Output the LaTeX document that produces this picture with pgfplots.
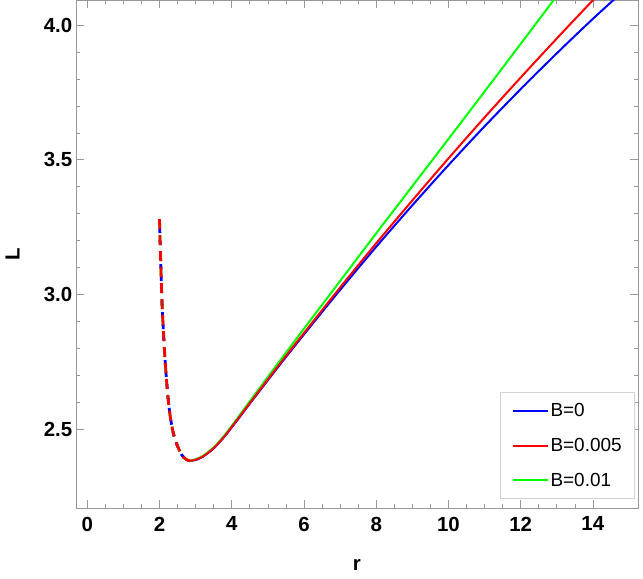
\documentclass[border=0pt]{standalone}
\usepackage{fontspec}
\setmainfont{Liberation Sans}
\usepackage{pgfplots}
\pgfplotsset{compat=1.18}
\begin{document}
\begin{tikzpicture}
\begin{axis}[
  name=ax,
  scale only axis, width=562bp, height=508bp,
  xmin=-0.32, xmax=15.25, ymin=2.207, ymax=4.093,
  xtick={0,2,...,14}, minor x tick num=3,
  ytick={2.5,3.0,3.5,4.0}, minor y tick num=4,
  y tick label style={/pgf/number format/fixed, /pgf/number format/fixed zerofill, /pgf/number format/precision=1},
  /pgf/number format/assume math mode=true,
  tick align=inside,
  major tick length=8bp, minor tick length=4bp,
  axis line style={gray!80},
  every tick/.style={gray!80, line width=0.6bp},
  tick label style={font=\fontsize{20.5}{24}\selectfont\bfseries, black},
  x tick label style={yshift=-5bp},
  xlabel={r}, ylabel={L},
  label style={font=\fontsize{20.5}{24}\selectfont\bfseries},
  xlabel style={at={(axis description cs:0.5,-0.1122)}, anchor=center},
  ylabel style={at={(axis description cs:-0.1121,0.5)}, anchor=center},
  legend style={at={(rel axis cs:0.9947,0.0177)}, anchor=south east,
    draw=gray!35, line width=0.8bp, font=\fontsize{19}{22}\selectfont,
    inner xsep=11bp, inner ysep=9bp, row sep=16bp},
  legend cell align=left,
  legend image code/.code={\draw[#1, solid] (0bp,0bp) -- (35bp,0bp);},
  clip=true,
]
% unstable branch (dashed)
\addplot[green, line width=2.8bp, dash pattern=on 10bp off 6bp, smooth, forget plot] coordinates {
(2.000,3.280)(2.005,3.252)(2.010,3.228)(2.020,3.180)(2.030,3.135)(2.045,3.070)(2.060,3.005)
(2.080,2.935)(2.110,2.860)(2.150,2.765)(2.200,2.672)(2.245,2.605)(2.300,2.545)(2.380,2.487)
(2.450,2.455)(2.530,2.428)(2.610,2.406)(2.700,2.392)(2.780,2.385)(2.850,2.383)};
\addplot[blue, line width=2.8bp, dash pattern=on 5bp off 7bp, dash phase=3bp, smooth, forget plot] coordinates {
(2.000,3.280)(2.005,3.252)(2.010,3.228)(2.020,3.180)(2.030,3.135)(2.045,3.070)(2.060,3.005)
(2.080,2.935)(2.110,2.860)(2.150,2.765)(2.200,2.672)(2.245,2.605)(2.300,2.545)(2.380,2.487)
(2.450,2.455)(2.530,2.428)(2.610,2.406)(2.700,2.392)(2.780,2.385)(2.850,2.383)};
\addplot[red, line width=2.8bp, dash pattern=on 10bp off 6bp, smooth, forget plot] coordinates {
(2.000,3.280)(2.005,3.252)(2.010,3.228)(2.020,3.180)(2.030,3.135)(2.045,3.070)(2.060,3.005)
(2.080,2.935)(2.110,2.860)(2.150,2.765)(2.200,2.672)(2.245,2.605)(2.300,2.545)(2.380,2.487)
(2.450,2.455)(2.530,2.428)(2.610,2.406)(2.700,2.392)(2.780,2.385)(2.850,2.383)};
% stable branch
\addplot[blue, line width=2bp, smooth, forget plot] coordinates {
(2.85,2.383)(3.0,2.386)(3.2,2.398)(3.5,2.429)(3.8,2.473)(4.0,2.507)(4.23,2.547)(4.5,2.595)
(5.0,2.682)(5.5,2.768)(6,2.852)(7,3.017)(8,3.177)(9,3.331)(10,3.480)(11,3.624)(12,3.762)
(13,3.895)(14,4.023)(15,4.145)};
\addplot[green, line width=2bp, smooth, forget plot] coordinates {
(2.85,2.383)(3.0,2.389)(3.2,2.401)(3.5,2.433)(3.8,2.478)(4.0,2.513)(4.23,2.554)(4.5,2.604)
(5.0,2.694)(5.5,2.784)(6,2.873)(7,3.050)(8,3.227)(9,3.402)(10,3.577)(11,3.753)(12,3.930)
(13,4.108)(13.5,4.198)};
\addplot[red, line width=2bp, smooth, forget plot] coordinates {
(2.85,2.383)(3.0,2.387)(3.2,2.399)(3.5,2.430)(3.8,2.474)(4.0,2.509)(4.23,2.549)(4.5,2.597)
(5.0,2.685)(5.5,2.772)(6,2.857)(7,3.026)(8,3.190)(9,3.349)(10,3.505)(11,3.657)(12,3.805)
(13,3.950)(14,4.092)(14.5,4.161)};
\addlegendimage{blue, line width=2bp}\addlegendentry{B=0}
\addlegendimage{red, line width=2bp}\addlegendentry{B=0.005}
\addlegendimage{green, line width=2bp}\addlegendentry{B=0.01}
\end{axis}
\pgfresetboundingbox
\path ([shift={(-75.7bp,-70.7bp)}]ax.south west) rectangle ([shift={(5bp,0bp)}]ax.north east);
\end{tikzpicture}
\end{document}
